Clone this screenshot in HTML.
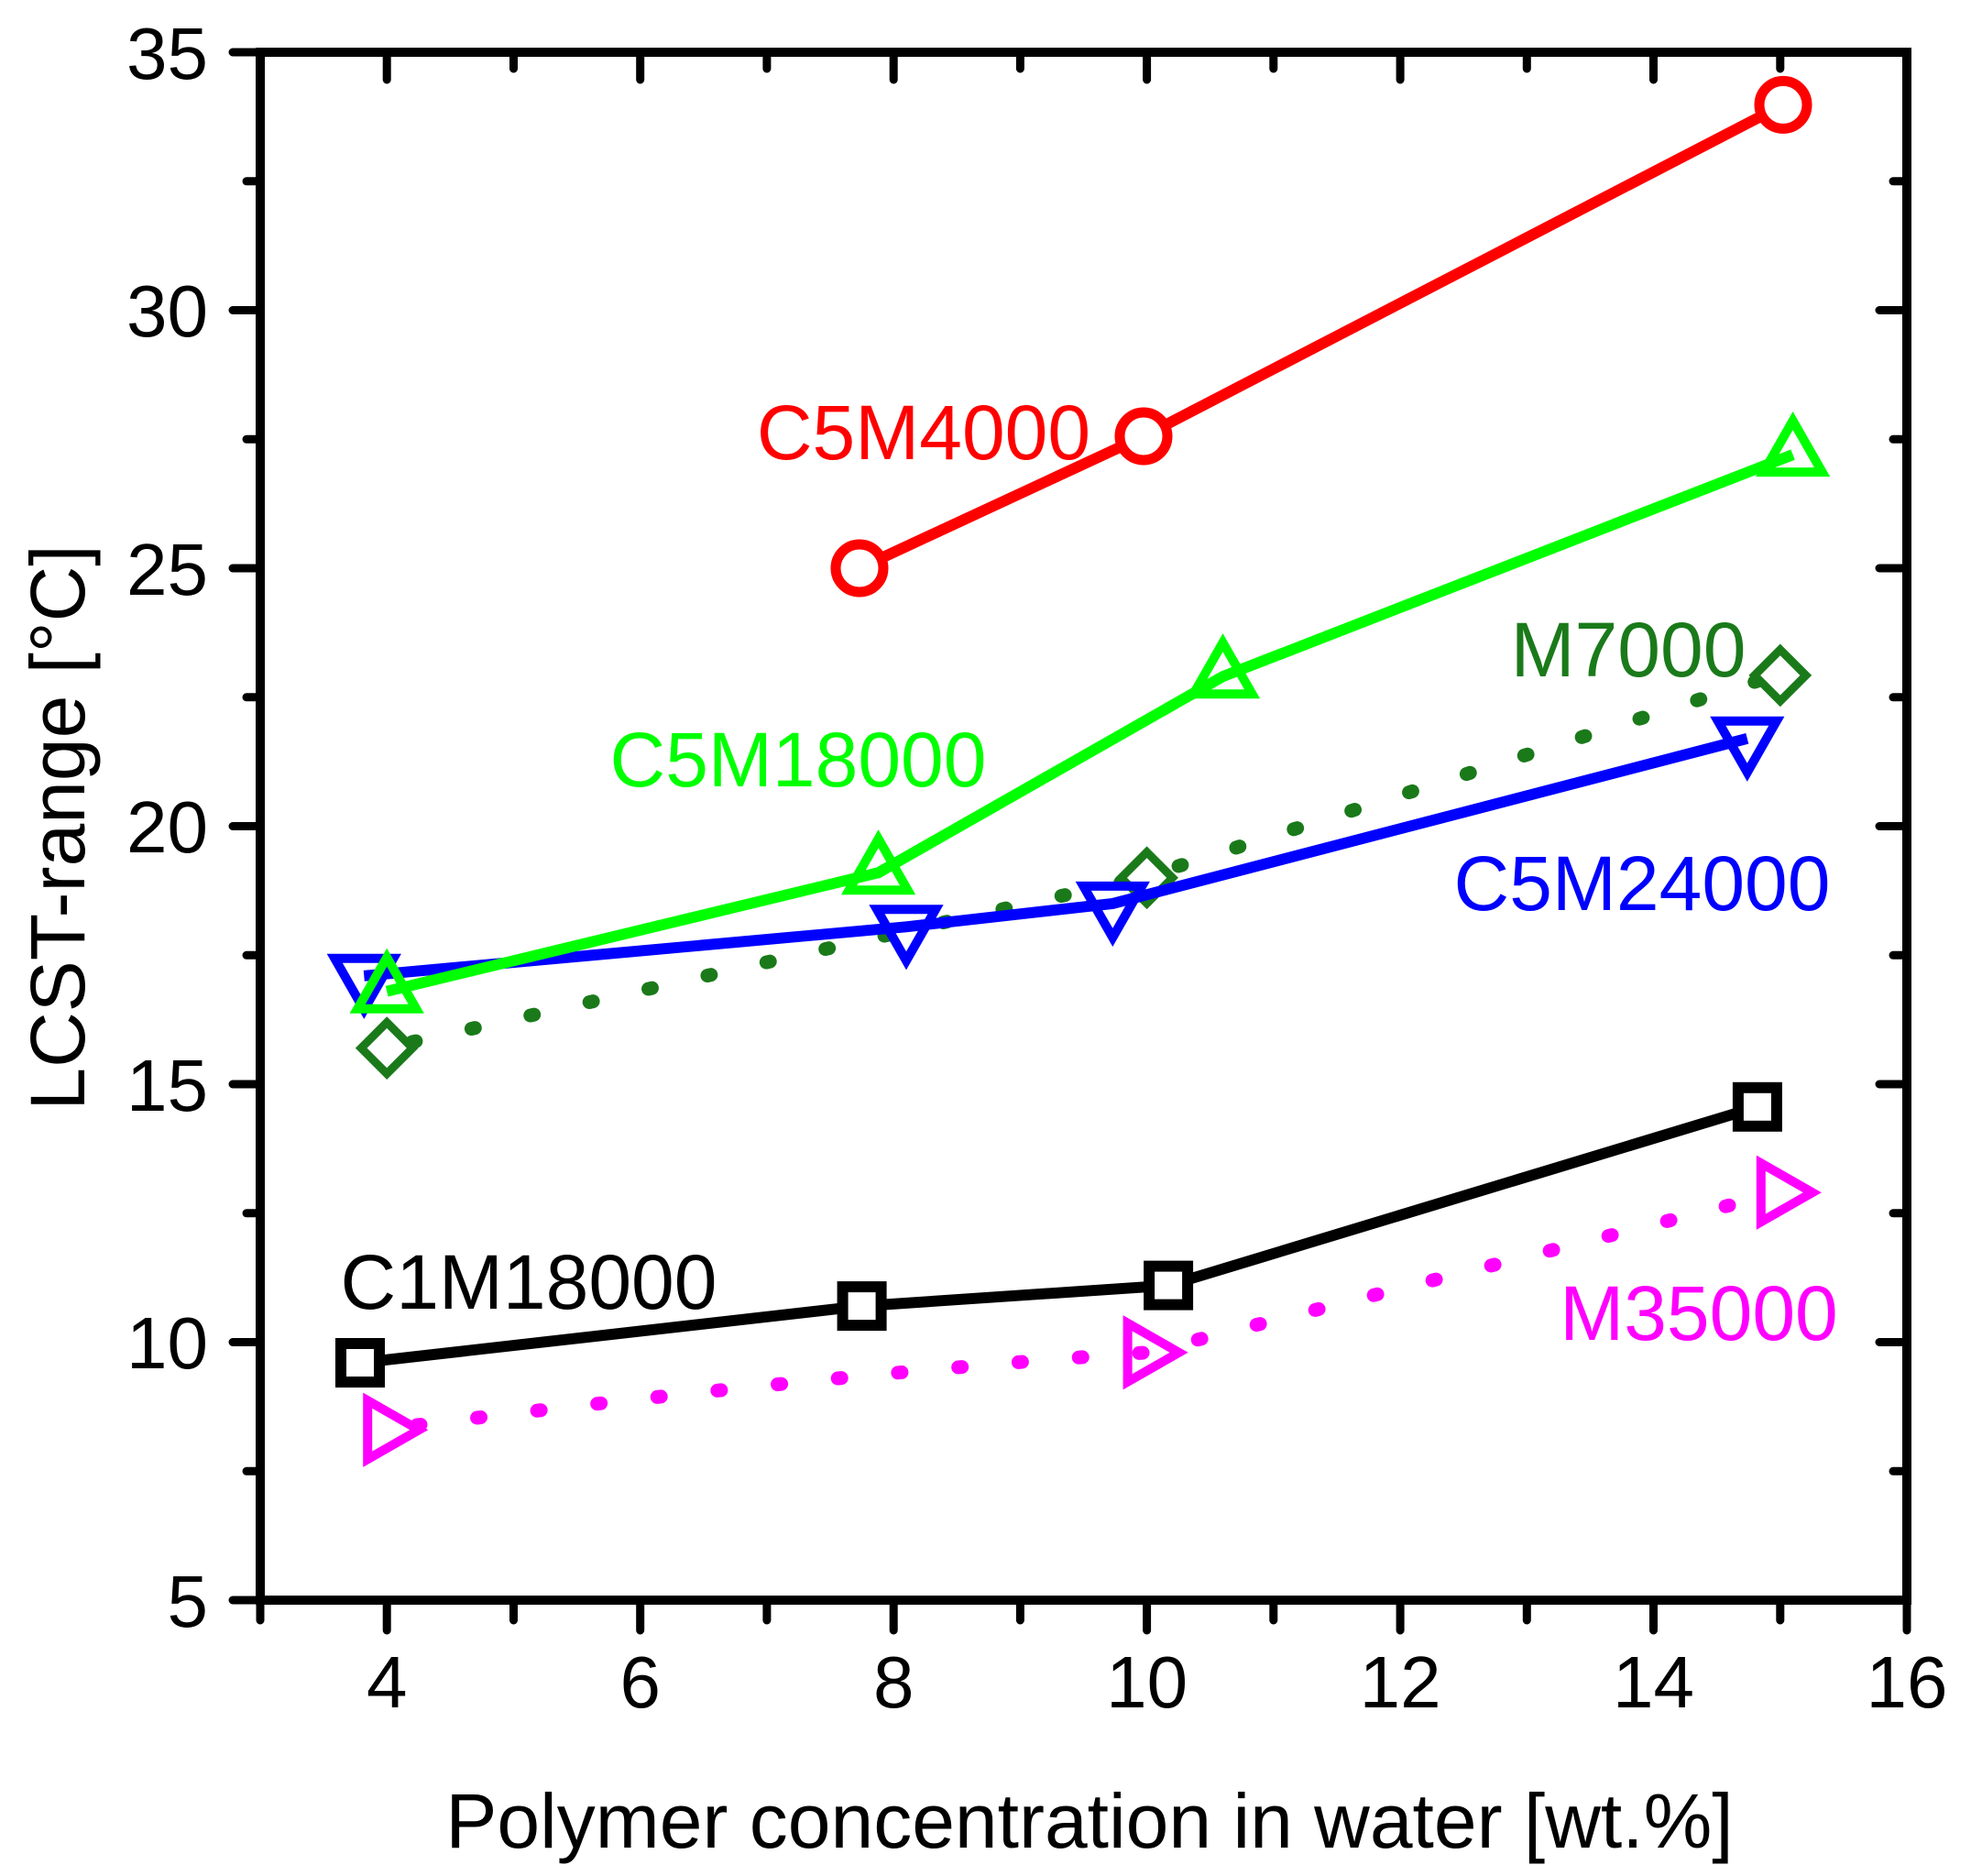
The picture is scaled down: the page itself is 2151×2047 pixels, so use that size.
<!DOCTYPE html>
<html><head><meta charset="utf-8"><style>
html,body{margin:0;padding:0;background:#fff;}
svg{display:block;}
text{font-family:"Liberation Sans",Arial,sans-serif;}
</style></head><body>
<svg width="2151" height="2047" viewBox="0 0 2151 2047" xmlns="http://www.w3.org/2000/svg">
<rect width="2151" height="2047" fill="#fff"/>
<g stroke="#000" stroke-width="9" stroke-linecap="round" fill="none">
<path d="M284 1746v22M422.2 1746v33M560.5 1746v22M698.7 1746v33M836.9 1746v22M975.2 1746v33M1113.4 1746v22M1251.6 1746v33M1389.8 1746v22M1528.1 1746v33M1666.3 1746v22M1804.5 1746v33M1942.8 1746v22M2081 1746v33"/>
<path d="M422.2 57v30M560.5 57v18M698.7 57v30M836.9 57v18M975.2 57v30M1113.4 57v18M1251.6 57v30M1389.8 57v18M1528.1 57v30M1666.3 57v18M1804.5 57v30M1942.8 57v18"/>
<path d="M284 1746h-30M284 1605.3h-15M284 1464.5h-30M284 1323.8h-15M284 1183h-30M284 1042.3h-15M284 901.5h-30M284 760.8h-15M284 620h-30M284 479.3h-15M284 338.5h-30M284 197.8h-15M284 57h-30"/>
<path d="M2081 1605.3h-15M2081 1464.5h-30M2081 1323.8h-15M2081 1183h-30M2081 1042.3h-15M2081 901.5h-30M2081 760.8h-15M2081 620h-30M2081 479.3h-15M2081 338.5h-30M2081 197.8h-15M2081 57h-30"/>
</g>
<rect x="284" y="57" width="1797" height="1689" fill="none" stroke="#000" stroke-width="10"/>
<g font-size="80" fill="#000" text-anchor="middle">
<text x="422.2" y="1863">4</text><text x="698.7" y="1863">6</text><text x="975.2" y="1863">8</text>
<text x="1251.6" y="1863">10</text><text x="1528.1" y="1863">12</text><text x="1804.5" y="1863">14</text><text x="2081" y="1863">16</text>
</g>
<g font-size="80" fill="#000" text-anchor="end">
<text x="227" y="1775">5</text><text x="227" y="1493">10</text><text x="227" y="1212">15</text>
<text x="227" y="930">20</text><text x="227" y="649">25</text><text x="227" y="367">30</text><text x="227" y="86">35</text>
</g>
<text x="1189" y="2016" font-size="84" text-anchor="middle">Polymer concentration in water [wt.%]</text>
<text transform="translate(92,903) rotate(-90)" font-size="84" text-anchor="middle">LCST-range [°C]</text>

<g stroke="#ff00ff" stroke-width="15" stroke-linecap="round" fill="none">
<path d="M455 1555 Q900 1500 1251.6 1475.8 L1942.8 1301.2" stroke-dasharray="4 62"/>
<g stroke-width="10"><path d="M422.2 1560.2m35 0l-56 -32v64z"/>
<path d="M1251.6 1475.8m35 0l-56 -32v64z"/>
<path d="M1942.8 1301.2m35 0l-56 -32v64z"/></g>
</g>
<g stroke="#000" stroke-width="12" fill="none">
<path d="M393.2 1487L940.6 1425.1L1275.1 1402.6L1917.9 1207.8"/>
<g fill="#fff" stroke-width="12"><rect x="372" y="1466" width="42" height="42"/><rect x="919.6" y="1404.1" width="42" height="42"/><rect x="1254.1" y="1381.6" width="42" height="42"/><rect x="1896.9" y="1186.8" width="42" height="42"/></g>
</g>
<g stroke="#1a7a1a" stroke-width="15" stroke-linecap="round" fill="none">
<path d="M450 1137L1246.1 957.8L1937.2 736.9" stroke-dasharray="4 62"/>
<g stroke-width="9" fill="#fff"><path d="M422.2 1115.6l28 28l-28 28l-28 -28z"/><path d="M1251.6 929.8l28 28l-28 28l-28 -28z"/><path d="M1942.8 708.9l28 28l-28 28l-28 -28z"/></g>
</g>
<g stroke="#0000ff" stroke-width="12" fill="none">
<path d="M397.3 1064.8L989 1011.3L1214.3 985.9L1906.8 805.8"/>
<g stroke-width="10" fill="none"><path d="M397.3 1101.8l-32 -56h64z"/><path d="M989 1048.3l-32 -56h64z"/><path d="M1214.3 1022.9l-32 -56h64z"/><path d="M1906.8 842.8l-32 -56h64z"/></g>
</g>
<g stroke="#00ff00" stroke-width="12" fill="none">
<path d="M422.2 1081.7L958.6 952.2L1334.5 738.2L1956.6 496.1"/>
<g stroke-width="10"><path d="M422.2 1044.7l32 56h-64z"/><path d="M958.6 915.2l32 56h-64z"/><path d="M1334.5 701.2l32 56h-64z"/><path d="M1956.6 459.1l32 56h-64z"/></g>
</g>
<g stroke="#ff0000" stroke-width="12" fill="none">
<path d="M938 620L1248 476L1946 114.4"/>
<g fill="#fff" stroke-width="11"><circle cx="938" cy="620" r="26"/><circle cx="1248" cy="476" r="26"/><circle cx="1946" cy="114.4" r="26"/></g>
</g>
<g font-size="84" text-anchor="middle">
<text x="1008" y="501" fill="#ff0000">C5M4000</text>
<text x="871" y="858" fill="#00ff00">C5M18000</text>
<text x="1777" y="738" fill="#1a7a1a">M7000</text>
<text x="1792" y="993" fill="#0000ff">C5M24000</text>
<text x="577" y="1428" fill="#000">C1M18000</text>
<text x="1854" y="1462" fill="#ff00ff">M35000</text>
</g>
</svg>
</body></html>
